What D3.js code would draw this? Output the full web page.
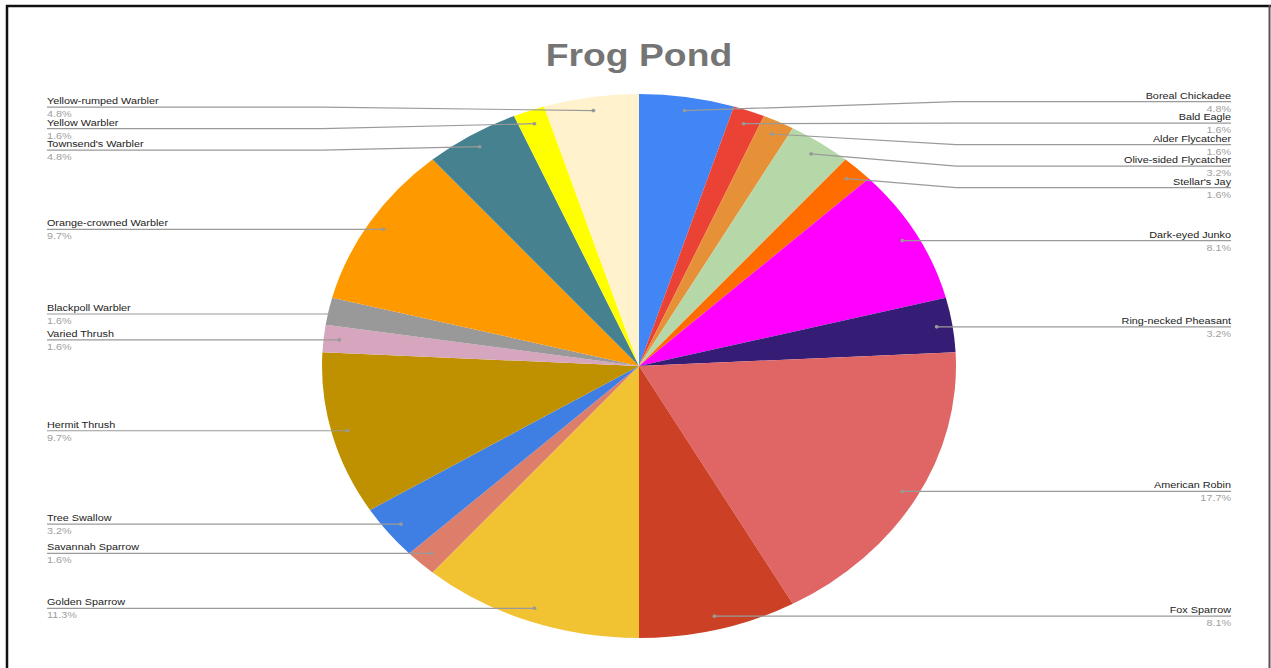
<!DOCTYPE html>
<html>
<head>
<meta charset="utf-8">
<script src="https://cdn.jsdelivr.net/npm/d3@7/dist/d3.min.js"></script>
<style>
  html, body { margin: 0; padding: 0; background: #fff; }
  svg { display: block; }
</style>
</head>
<body>
<svg id="chart" width="1271" height="668"></svg>
<script>
// Bird sightings at Frog Pond (counts; percentages are derived from the total)
const species = [
  "Boreal Chickadee", "Bald Eagle", "Alder Flycatcher", "Olive-sided Flycatcher",
  "Stellar's Jay", "Dark-eyed Junko", "Ring-necked Pheasant", "American Robin",
  "Fox Sparrow", "Golden Sparrow", "Savannah Sparrow", "Tree Swallow",
  "Hermit Thrush", "Varied Thrush", "Blackpoll Warbler", "Orange-crowned Warbler",
  "Townsend's Warbler", "Yellow Warbler", "Yellow-rumped Warbler"
];
const counts = [3, 1, 1, 2, 1, 5, 2, 11, 5, 7, 1, 2, 6, 1, 1, 6, 3, 1, 3];
const sliceColors = [
  "#4285f4", "#ea4335", "#e69138", "#b6d7a8",
  "#ff6d01", "#ff00ff", "#351c75", "#e06666",
  "#cc4125", "#f1c232", "#dd7e6b", "#3f7fe4",
  "#bf9000", "#d5a6bd", "#999999", "#ff9900",
  "#45818e", "#ffff00", "#fff2cc"
];
const chartTitle = "Frog Pond";

// ---- layout ----
const svg = d3.select("#chart");
const R = 272;                 // pie radius (vertical)
const SX = 317 / 272;          // horizontal stretch of the whole drawing
const cx = 639 / SX, cy = 366; // pie centre in unstretched units
const labelOffset = 508;       // distance of label edge from centre
const gap = 21.5;              // minimum vertical spacing between labels

// outer frame
const frame = svg.append("g");
frame.append("line").attr("x1", 6).attr("x2", 1271).attr("y1", 6).attr("y2", 6)
  .attr("stroke", "#111").attr("stroke-width", 2.5);
frame.append("line").attr("x1", 7).attr("x2", 7).attr("y1", 5).attr("y2", 668)
  .attr("stroke", "#111").attr("stroke-width", 2.5);
frame.append("line").attr("x1", 1269.5).attr("x2", 1269.5).attr("y1", 5).attr("y2", 668)
  .attr("stroke", "#555").attr("stroke-width", 2);

const g = svg.append("g").attr("transform", `scale(${SX},1)`);

g.append("text")
  .attr("x", cx).attr("y", 66)
  .attr("text-anchor", "middle")
  .attr("font-family", "'Liberation Sans', Arial, sans-serif")
  .attr("font-weight", "bold")
  .attr("font-size", 32)
  .attr("fill", "#757575")
  .text(chartTitle);

const total = d3.sum(counts);
const data = species.map((name, i) => ({ name, value: counts[i], color: sliceColors[i] }));

const pie = d3.pie().value(d => d.value).sort(null);
const arcs = pie(data);
const arc = d3.arc().innerRadius(0).outerRadius(R);
const dotArc = d3.arc().innerRadius(R * 0.95).outerRadius(R * 0.95);

const pieG = g.append("g").attr("transform", `translate(${cx},${cy})`);
pieG.selectAll("path.slice")
  .data(arcs)
  .join("path")
  .attr("class", "slice")
  .attr("d", arc)
  .attr("fill", d => d.data.color);

// label anchor points
const labels = arcs.map(a => {
  const [dx, dy] = dotArc.centroid(a);
  const mid = (a.startAngle + a.endAngle) / 2;
  return {
    name: a.data.name,
    pct: (a.data.value / total * 100).toFixed(1) + "%",
    dotX: cx + dx, dotY: cy + dy,
    side: Math.sin(mid) >= 0 ? "right" : "left"
  };
});

// stack labels of each side so they don't overlap
function layoutSide(items) {
  items.sort((a, b) => a.dotY - b.dotY);
  let groups = items.map(it => [it]);
  const place = grp => {
    const centre = (grp[0].dotY + grp[grp.length - 1].dotY) / 2;
    grp.forEach((it, i) => { it.y = centre + (i - (grp.length - 1) / 2) * gap; });
  };
  groups.forEach(place);
  let merged = true;
  while (merged) {
    merged = false;
    for (let i = 0; i < groups.length - 1; i++) {
      const a = groups[i], b = groups[i + 1];
      if (a[a.length - 1].y + gap > b[0].y) {
        const m = a.concat(b);
        place(m);
        groups.splice(i, 2, m);
        merged = true;
        break;
      }
    }
  }
}
layoutSide(labels.filter(l => l.side === "right"));
layoutSide(labels.filter(l => l.side === "left"));

const lab = g.append("g").attr("font-family", "'Liberation Sans', Arial, sans-serif").attr("font-size", 9.3);

labels.forEach(l => {
  const right = l.side === "right";
  const edgeX = right ? cx + labelOffset : cx - labelOffset;
  const bendX = right ? Math.max(cx + R, l.dotX) : Math.min(cx - R, l.dotX);
  lab.append("polyline")
    .attr("points", `${l.dotX},${l.dotY} ${bendX},${l.y} ${edgeX},${l.y}`)
    .attr("fill", "none")
    .attr("stroke", "#9a9a9a")
    .attr("stroke-width", 1.2);
  lab.append("ellipse")
    .attr("cx", l.dotX).attr("cy", l.dotY)
    .attr("rx", 1.8 / SX * 1.1).attr("ry", 1.8)
    .attr("fill", "#999");
  lab.append("text")
    .attr("x", edgeX).attr("y", l.y - 3)
    .attr("text-anchor", right ? "end" : "start")
    .attr("fill", "#222")
    .text(l.name);
  lab.append("text")
    .attr("x", edgeX).attr("y", l.y + 10)
    .attr("text-anchor", right ? "end" : "start")
    .attr("fill", "#a0a0a0")
    .text(l.pct);
});
</script>
</body>
</html>
